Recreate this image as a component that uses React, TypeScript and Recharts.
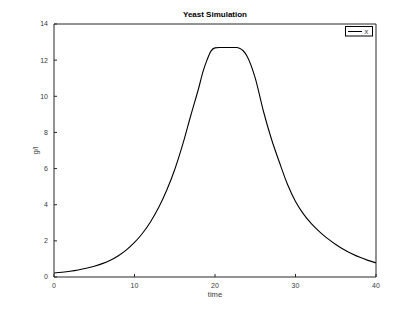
import React from 'react';
import { LineChart, Line, XAxis, YAxis, Legend } from 'recharts';

const times = [0, 1, 2, 3, 4, 5, 6, 7, 8, 9, 10, 11, 12, 13, 14, 15, 16, 17, 18, 18.5, 19, 19.5, 20, 20.5, 21, 22, 22.7, 23.1, 23.5, 24, 25, 26, 27, 28, 29, 30, 31, 32, 33, 34, 35, 36, 37, 38, 39, 40];
const xValues = [0.22, 0.265, 0.32, 0.39, 0.48, 0.595, 0.74, 0.93, 1.18, 1.5, 1.91, 2.42, 3.06, 3.84, 4.8, 5.95, 7.35, 8.95, 10.5, 11.35, 12.0, 12.5, 12.68, 12.7, 12.7, 12.7, 12.7, 12.64, 12.52, 12.2, 11.0, 9.2, 7.65, 6.35, 5.13, 4.18, 3.48, 2.94, 2.5, 2.12, 1.8, 1.52, 1.29, 1.09, 0.92, 0.78];
const xTicks = [0, 10, 20, 30, 40];
const yTicks = [0, 2, 4, 6, 8, 10, 12, 14];
const seriesName = 'x';
const title = 'Yeast Simulation';
const xLabel = 'time';
const yLabel = 'g/l';

const data = times.map((t, i) => ({ t, x: xValues[i] }));

const FONT = '"Liberation Sans", Arial, Helvetica, sans-serif';
const AXIS = '#262626';
const TXT = '#3a3a3a';

const XTick = (props: any) => (
  <text x={props.x} y={props.y} dy="0.71em" textAnchor="middle" fontSize={7} fontFamily={FONT} fill={TXT}>
    {props.payload.value}
  </text>
);

const YTick = (props: any) => (
  <text x={props.x} y={props.y} dy="0.35em" textAnchor="end" fontSize={7} fontFamily={FONT} fill={TXT}>
    {props.payload.value}
  </text>
);

const LegendBox = () => (
  <svg width={28} height={11} style={{ display: 'block' }}>
    <rect x={0.5} y={0.5} width={27} height={9.5} fill="#fff" stroke="#000" strokeWidth={1} />
    <line x1={3} x2={17} y1={5.5} y2={5.5} stroke="#000" strokeWidth={1} />
    <text x={19.5} y={8.3} fontSize={7.5} fontFamily={FONT} fill={TXT}>{seriesName}</text>
  </svg>
);

export default function App() {
  return (
    <div style={{ position: 'absolute', left: 0, top: 0, width: 415, height: 311, background: '#fff' }}>
      <LineChart
        width={415}
        height={311}
        data={data}
        margin={{ top: 23, right: 38, bottom: 14, left: 16 }}
      >
        <XAxis
          xAxisId="bottom"
          dataKey="t"
          type="number"
          domain={[0, 40]}
          ticks={xTicks}
          height={20}
          stroke={AXIS}
          tickSize={-3}
          tickMargin={9}
          tick={<XTick />}
          label={{ value: xLabel, position: 'insideBottom', offset: 0, fontSize: 7.6, fontFamily: FONT, fill: TXT }}
        />
        <XAxis
          xAxisId="top"
          orientation="top"
          type="number"
          dataKey="t"
          domain={[0, 40]}
          allowDataOverflow={true}
          ticks={xTicks}
          height={1}
          stroke={AXIS}
          tickSize={-3}
          tick={false}
          label={{ value: title, position: 'top', offset: 6, fontSize: 8, fontWeight: 'bold', fontFamily: FONT, fill: '#000' }}
        />
        <YAxis
          yAxisId="left"
          type="number"
          domain={[0, 14]}
          ticks={yTicks}
          width={38}
          stroke={AXIS}
          tickSize={-3}
          tickMargin={9}
          tick={<YTick />}
          label={{ value: yLabel, angle: -90, position: 'center', fontSize: 7.6, fontFamily: FONT, fill: TXT }}
        />
        <YAxis
          yAxisId="right"
          orientation="right"
          type="number"
          domain={[0, 14]}
          allowDataOverflow={true}
          ticks={yTicks}
          width={1}
          stroke={AXIS}
          tickSize={-3}
          tick={false}
        />
        <Legend
          layout="horizontal"
          verticalAlign="middle"
          align="center"
          wrapperStyle={{ top: 26, left: 345, width: 28, height: 11 }}
          content={() => <LegendBox />}
        />
        <Line
          xAxisId="top"
          yAxisId="right"
          type="monotone"
          dataKey="x"
          stroke="none"
          legendType="none"
          dot={false}
          activeDot={false}
          isAnimationActive={false}
        />
        <Line
          xAxisId="bottom"
          yAxisId="left"
          type="monotone"
          dataKey="x"
          name={seriesName}
          stroke="#000"
          strokeWidth={1.1}
          dot={false}
          isAnimationActive={false}
        />
      </LineChart>
    </div>
  );
}
